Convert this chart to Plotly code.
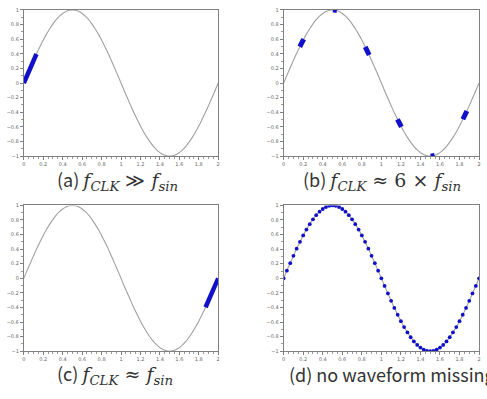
import plotly.graph_objects as go

# ---- data ----
x_samples = [0, 0.033, 0.067, 0.1, 0.133, 0.167, 0.2, 0.233, 0.267, 0.3,
             0.333, 0.367, 0.4, 0.433, 0.467, 0.5, 0.533, 0.567, 0.6, 0.633,
             0.667, 0.7, 0.733, 0.767, 0.8, 0.833, 0.867, 0.9, 0.933, 0.967,
             1.0, 1.033, 1.067, 1.1, 1.133, 1.167, 1.2, 1.233, 1.267, 1.3,
             1.333, 1.367, 1.4, 1.433, 1.467, 1.5, 1.533, 1.567, 1.6, 1.633,
             1.667, 1.7, 1.733, 1.767, 1.8, 1.833, 1.867, 1.9, 1.933, 1.967, 2.0]
y_samples = [0, 0.105, 0.208, 0.309, 0.407, 0.5, 0.588, 0.669, 0.743, 0.809,
             0.866, 0.914, 0.951, 0.978, 0.995, 1, 0.995, 0.978, 0.951, 0.914,
             0.866, 0.809, 0.743, 0.669, 0.588, 0.5, 0.407, 0.309, 0.208, 0.105,
             0, -0.105, -0.208, -0.309, -0.407, -0.5, -0.588, -0.669, -0.743, -0.809,
             -0.866, -0.914, -0.951, -0.978, -0.995, -1, -0.995, -0.978, -0.951, -0.914,
             -0.866, -0.809, -0.743, -0.669, -0.588, -0.5, -0.407, -0.309, -0.208, -0.105, 0]

seg_a_x = [0, 0.04, 0.08, 0.13]
seg_a_y = [0, 0.125, 0.249, 0.397]

seg_b_x = [0.165, 0.185, 0.205, None, 0.505, 0.525, 0.545, None, 0.835, 0.855, 0.875, None,
           1.165, 1.185, 1.205, None, 1.505, 1.525, 1.545, None, 1.835, 1.855, 1.875]
seg_b_y = [0.496, 0.549, 0.600, None, 1.0, 0.997, 0.990, None, 0.495, 0.440, 0.383, None,
           -0.496, -0.549, -0.600, None, -1.0, -0.997, -0.990, None, -0.495, -0.440, -0.383]

seg_c_x = [1.87, 1.91, 1.95, 2.0]
seg_c_y = [-0.397, -0.279, -0.156, 0]

x_ticks = [0, 0.2, 0.4, 0.6, 0.8, 1, 1.2, 1.4, 1.6, 1.8, 2]
y_ticks = [-1, -0.8, -0.6, -0.4, -0.2, 0, 0.2, 0.4, 0.6, 0.8, 1]

math_font = "DejaVu Serif"
M = "<span style='font-family:%s;font-size:19px'>" % math_font
captions = [
    "(a) " + M + "<i>f</i><sub><i>CLK</i></sub> ≫ <i>f</i><sub><i>sin</i></sub></span>",
    "(b) " + M + "<i>f</i><sub><i>CLK</i></sub> ≈ 6 × <i>f</i><sub><i>sin</i></sub></span>",
    "(c) " + M + "<i>f</i><sub><i>CLK</i></sub> ≈ <i>f</i><sub><i>sin</i></sub></span>",
    "(d) no waveform missing",
]

# ---- layout geometry ----
W, H = 487, 399
panels = [  # (left, right, top, bottom) in px
    (22, 218, 7, 155.5),
    (284, 481, 7, 155.5),
    (22, 218, 205.5, 353.5),
    (284, 481, 205.5, 353.5),
]

fig = go.Figure()

GRAY = "#a0a0a0"
BLUE = "#1010c8"

for i in range(4):
    xa = "x" if i == 0 else "x%d" % (i + 1)
    ya = "y" if i == 0 else "y%d" % (i + 1)
    fig.add_trace(go.Scatter(x=x_samples, y=y_samples, mode="lines",
                             line=dict(color=GRAY, width=1.1, shape="spline"),
                             xaxis=xa, yaxis=ya, hoverinfo="skip"))

fig.add_trace(go.Scatter(x=seg_a_x, y=seg_a_y, mode="lines",
                         line=dict(color=BLUE, width=4.5), xaxis="x", yaxis="y"))
fig.add_trace(go.Scatter(x=seg_b_x, y=seg_b_y, mode="lines",
                         line=dict(color=BLUE, width=5), xaxis="x2", yaxis="y2"))
fig.add_trace(go.Scatter(x=seg_c_x, y=seg_c_y, mode="lines",
                         line=dict(color=BLUE, width=4.5), xaxis="x3", yaxis="y3"))
fig.add_trace(go.Scatter(x=x_samples, y=y_samples, mode="markers",
                         marker=dict(color=BLUE, size=3.8), xaxis="x4", yaxis="y4"))

layout = dict(width=W, height=H, margin=dict(l=0, r=0, t=0, b=0),
              paper_bgcolor="white", plot_bgcolor="white", showlegend=False)

tickfont = dict(size=5, color="#666", family="DejaVu Sans")
for i, (l, r, t, b) in enumerate(panels):
    xk = "xaxis" if i == 0 else "xaxis%d" % (i + 1)
    yk = "yaxis" if i == 0 else "yaxis%d" % (i + 1)
    xa = "x" if i == 0 else "x%d" % (i + 1)
    ya = "y" if i == 0 else "y%d" % (i + 1)
    layout[xk] = dict(domain=[l / W, r / W], anchor=ya, range=[0, 2],
                      tickvals=x_ticks, showgrid=False, zeroline=False,
                      showline=True, linecolor="#808080", linewidth=1, mirror=True,
                      ticks="outside", ticklen=3, tickcolor="#808080",
                      tickfont=tickfont,
                      minor=dict(dtick=0.05, ticks="outside", ticklen=2, tickcolor="#999"))
    layout[yk] = dict(domain=[1 - b / H, 1 - t / H], anchor=xa, range=[-1, 1],
                      tickvals=y_ticks, showgrid=False, zeroline=False,
                      showline=True, linecolor="#808080", linewidth=1, mirror=True,
                      ticks="outside", ticklen=3, tickcolor="#808080",
                      tickfont=tickfont,
                      minor=dict(dtick=0.1, ticks="outside", ticklen=2, tickcolor="#999"))

fig.update_layout(**layout)

cap_pos = [(53, 180), (301, 180), (53, 377), (287, 377)]
for text, (cx, cy) in zip(captions, cap_pos):
    fig.add_annotation(x=cx / W, y=1 - cy / H, xref="paper", yref="paper",
                       text=text, showarrow=False, xanchor="left", yanchor="middle",
                       font=dict(size=18, color="#333", family="Noto Sans CJK JP"))

fig.write_html("out.html", config={"displayModeBar": False},
               post_script="document.body.style.margin='0';document.body.style.overflow='hidden';")
